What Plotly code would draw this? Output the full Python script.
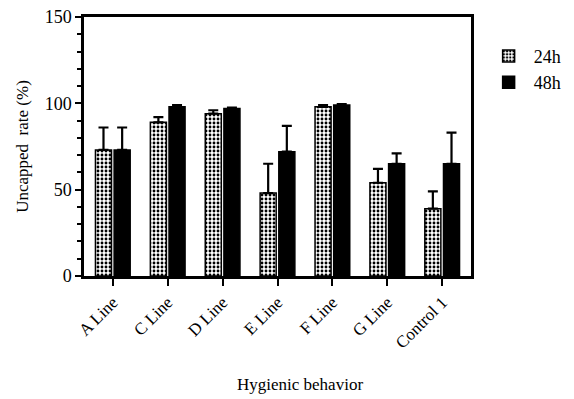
import plotly.graph_objects as go

categories = ["A Line", "C Line", "D Line", "E Line", "F Line", "G Line", "Control 1"]
vals_24h = [73, 89, 94, 48, 98, 54, 39]
err_24h = [13, 3, 2, 17, 1, 8, 10]
vals_48h = [73, 98, 97, 72, 99, 65, 65]
err_48h = [13, 1, 0.5, 15, 0.5, 6, 18]
y_ticks = [0, 50, 100, 150]

serif = "Liberation Serif, Times New Roman, serif"

fig = go.Figure()
fig.add_trace(go.Bar(
    name="24h", x=categories, y=vals_24h,
    error_y=dict(type="data", array=err_24h, arrayminus=[0]*len(err_24h),
                 symmetric=False, color="black", thickness=2.2, width=5),
    marker=dict(color="white", line=dict(color="black", width=1.5),
                pattern=dict(shape=".", size=4, solidity=0.4, fgcolor="black",
                             bgcolor="white", fillmode="replace")),
))
fig.add_trace(go.Bar(
    name="48h", x=categories, y=vals_48h,
    error_y=dict(type="data", array=err_48h, arrayminus=[0]*len(err_48h),
                 symmetric=False, color="black", thickness=2.2, width=5),
    marker=dict(color="black", line=dict(color="black", width=1.5)),
))

fig.update_layout(
    width=566, height=391,
    margin=dict(l=76, r=102, t=9, b=123),
    paper_bgcolor="white", plot_bgcolor="white",
    barmode="group", bargap=0.32, bargroupgap=0.14,
    font=dict(family=serif, size=17, color="black"),
    showlegend=True,
    legend=dict(x=1.03, y=0.92, xanchor="left", yanchor="top",
                font=dict(size=18, family=serif), itemwidth=40,
                tracegroupgap=8, bgcolor="rgba(0,0,0,0)"),
    annotations=[dict(text="Hygienic behavior", xref="paper", yref="paper",
                      x=0.557, y=-0.42, xanchor="center", yanchor="middle",
                      showarrow=False, font=dict(size=17, family=serif))],
)
fig.update_xaxes(
    range=[-0.525, 6.525], showline=True, linecolor="black", linewidth=2.5,
    mirror=True, ticks="outside", ticklen=7, tickwidth=2, tickcolor="black",
    tickangle=-45, tickfont=dict(size=17, family=serif), showgrid=False,
    automargin=False,
)
fig.update_yaxes(
    range=[0, 150], tickvals=y_ticks, showline=True, linecolor="black",
    linewidth=2.5, mirror=True, ticks="outside", ticklen=6, tickwidth=2,
    tickcolor="black", showgrid=False, zeroline=False, automargin=False,
    ticklabeloverflow="allow",
    minor=dict(dtick=10, ticks="outside", ticklen=4, tickwidth=1.5, tickcolor="black"),
    title=dict(text="Uncapped  rate (%)", font=dict(size=17, family=serif), standoff=12),
    tickfont=dict(size=18, family=serif),
)

fig.write_html("out.html")
